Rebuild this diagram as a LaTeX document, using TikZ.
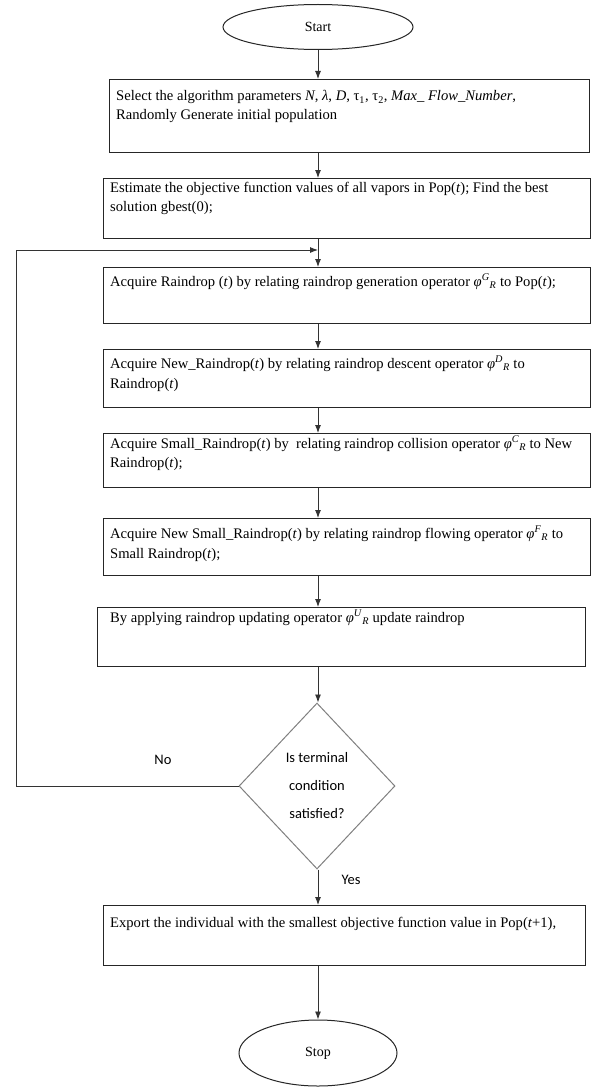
\documentclass[tikz,border=0pt]{standalone}
\usepackage{fontspec}
\setmainfont{Liberation Serif}
\newfontfamily\carlfont{Carlito}
\usetikzlibrary{shapes.geometric,arrows.meta,calc}
\newcommand\oper[1]{\textit{φ}\textsuperscript{\textit{#1}}\textsubscript{\textit{R}}}
\begin{document}
\begin{tikzpicture}[x=1pt,y=-1pt,
  bx/.style={draw=black!85, line width=1.1pt, rectangle, inner sep=0pt, anchor=north west},
  txt/.style={inner sep=0pt, anchor=base west, font=\fontsize{14.6}{17}\selectfont},
  term/.style={draw=black!85, line width=1pt, ellipse, inner sep=0pt, font=\fontsize{14}{16}\selectfont},
  dec/.style={draw=black!50, line width=1pt, diamond, inner sep=0pt, align=center, font=\carlfont\fontsize{14.5}{28}\selectfont},
  flow/.style={draw=black!80, line width=0.9pt, -{Latex[length=8pt,width=6pt]}},
  lbl/.style={inner sep=0pt, font=\carlfont\fontsize{14.5}{18}\selectfont}]
\fill[white] (0,0) rectangle (600,1089);
\useasboundingbox (0,0) rectangle (600,1089);

\coordinate (lp) at (318,250);
\coordinate (lc) at (16,250);

\node[term, minimum width=190pt, minimum height=45pt] (start) at (318,27) {Start};

\node[bx, minimum width=480pt, minimum height=73pt] (b1) at (109,79) {};
\node[txt] (t1a) at (116,101) {Select the algorithm parameters \textit{N}, \textit{λ}, \textit{D}, τ\textsubscript{1}, τ\textsubscript{2}, \textit{Max\_ Flow\_Number},};
\node[txt] (t1b) at (116,120) {Randomly Generate initial population};

\node[bx, minimum width=487pt, minimum height=60pt] (b2) at (103,178) {};
\node[txt] (t2a) at (110,192) {Estimate the objective function values of all vapors in Pop(\textit{t}); Find the best};
\node[txt] (t2b) at (110,211) {solution gbest(0);};

\node[bx, minimum width=487pt, minimum height=56pt] (b3) at (103,267) {};
\node[txt] (t3a) at (110,286) {Acquire Raindrop (\textit{t}) by relating raindrop generation operator \oper{G} to Pop(\textit{t});};

\node[bx, minimum width=487pt, minimum height=58pt] (b4) at (103,349) {};
\node[txt] (t4a) at (110,368) {Acquire New\_Raindrop(\textit{t}) by relating raindrop descent operator \oper{D} to};
\node[txt] (t4b) at (110,388) {Raindrop(\textit{t})};

\node[bx, minimum width=487pt, minimum height=54pt] (b5) at (103,433) {};
\node[txt] (t5a) at (110,448) {Acquire Small\_Raindrop(\textit{t}) by\ \ relating raindrop collision operator \oper{C} to New};
\node[txt] (t5b) at (110,467) {Raindrop(\textit{t});};

\node[bx, minimum width=487pt, minimum height=57pt] (b6) at (103,518) {};
\node[txt] (t6a) at (110,538) {Acquire New Small\_Raindrop(\textit{t}) by relating raindrop flowing operator \oper{F} to};
\node[txt] (t6b) at (110,558) {Small Raindrop(\textit{t});};

\node[bx, minimum width=488pt, minimum height=59pt] (b7) at (97,607) {};
\node[txt] (t7a) at (110,622) {By applying raindrop updating operator \oper{U} update raindrop};

\node[dec, minimum width=156pt, minimum height=166pt] (dia) at (317,786) {Is terminal\\condition\\satisfied?};

\node[lbl] (no) at (163,760) {No};
\node[lbl] (yes) at (351,880) {Yes};

\node[bx, minimum width=482pt, minimum height=60pt] (b8) at (103,905) {};
\node[txt] (t8a) at (110,927) {Export the individual with the smallest objective function value in Pop(\textit{t}+1),};

\node[term, minimum width=158pt, minimum height=66pt] (stop) at (318,1053) {Stop};

\draw[flow] (start.south) -- (start.south |- b1.north);
\draw[flow] (b1.south -| lp) -- (b2.north -| lp);
\draw[flow] (b2.south -| lp) -- (b3.north -| lp);
\draw[flow] (b3.south -| lp) -- (b4.north -| lp);
\draw[flow] (b4.south -| lp) -- (b5.north -| lp);
\draw[flow] (b5.south -| lp) -- (b6.north -| lp);
\draw[flow] (b6.south -| lp) -- (b7.north -| lp);
\draw[flow] (b7.south -| lp) -- (dia.north -| lp);
\draw[flow] (dia.south -| lp) -- (b8.north -| lp);
\draw[flow] (b8.south -| lp) -- (stop.north);
\draw[flow] (dia.west) -| (lc) -- (lp);
\end{tikzpicture}
\end{document}
